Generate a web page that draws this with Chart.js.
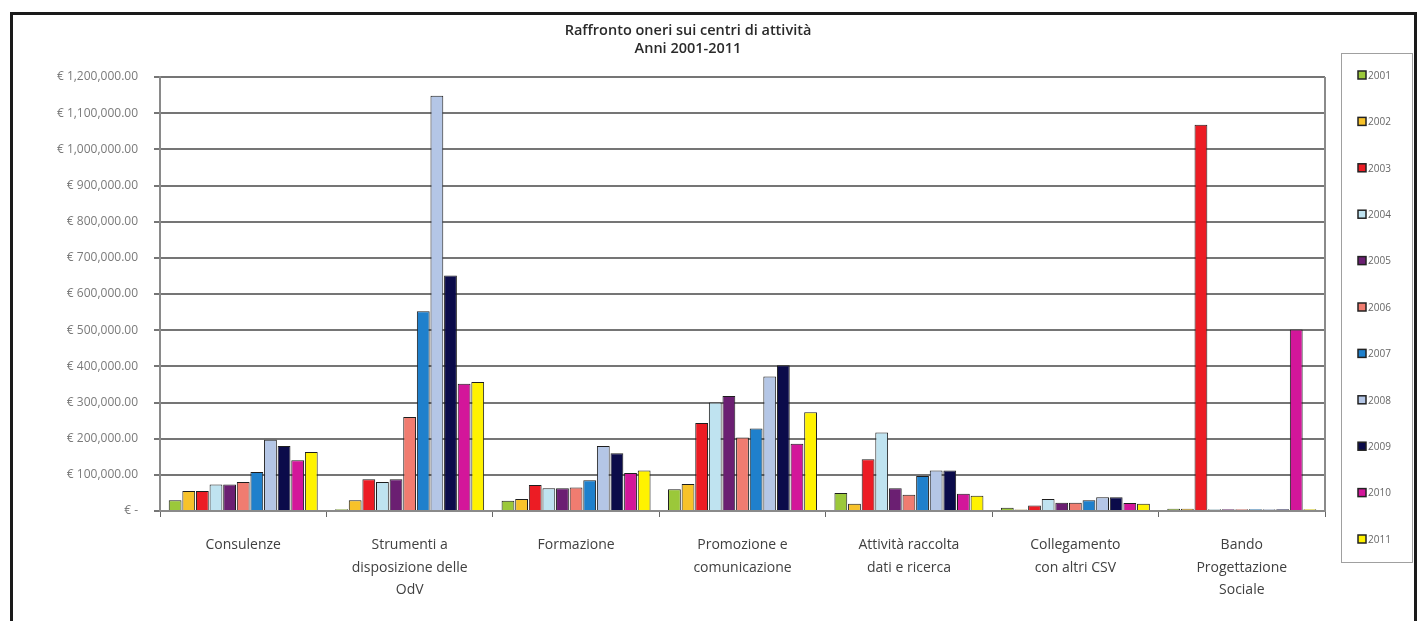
<!DOCTYPE html>
<html><head><meta charset="utf-8">
<script src="https://cdn.jsdelivr.net/npm/chart.js@4.4.0/dist/chart.umd.min.js"></script>
<style>
html,body{margin:0;padding:0;background:#fff;overflow:hidden}
#wrap{position:relative;width:1418px;height:621px}
#frame{position:absolute;left:10px;top:12px;width:1401px;height:640px;border:3px solid #1a1a1a;pointer-events:none}
canvas{position:absolute;left:0;top:0}
</style></head><body>
<div id="wrap"><canvas id="c" width="1418" height="621"></canvas><div id="frame"></div></div>
<script>
// ---- data ----
const titleLines = ['Raffronto oneri sui centri di attività', 'Anni 2001-2011'];
const categories = [
  ['Consulenze'],
  ['Strumenti a', 'disposizione delle', 'OdV'],
  ['Formazione'],
  ['Promozione e', 'comunicazione'],
  ['Attività raccolta', 'dati e ricerca'],
  ['Collegamento', 'con altri CSV'],
  ['Bando', 'Progettazione', 'Sociale']
];
const years = ['2001','2002','2003','2004','2005','2006','2007','2008','2009','2010','2011'];
const v2001 = [30000, 5000, 28000, 60000, 50000, 9000, 6000];
const v2002 = [55000, 30000, 33000, 75000, 20000, 4000, 6000];
const v2003 = [55000, 88000, 72000, 243000, 143000, 15000, 1068000];
const v2004 = [73000, 80000, 63000, 300000, 217000, 33000, 5000];
const v2005 = [73000, 88000, 63000, 318000, 63000, 23000, 5000];
const v2006 = [80000, 260000, 65000, 203000, 45000, 23000, 5000];
const v2007 = [108000, 552000, 85000, 228000, 97000, 30000, 5000];
const v2008 = [197000, 1148000, 180000, 372000, 112000, 38000, 5000];
const v2009 = [180000, 651000, 160000, 403000, 112000, 38000, 5000];
const v2010 = [140000, 352000, 105000, 186000, 48000, 22000, 502000];
const v2011 = [163000, 357000, 112000, 273000, 42000, 20000, 5000];
const yTickValues = [0,100000,200000,300000,400000,500000,600000,700000,800000,900000,1000000,1100000,1200000];
const yTickLabels = ['€ -','€ 100,000.00','€ 200,000.00','€ 300,000.00','€ 400,000.00','€ 500,000.00','€ 600,000.00','€ 700,000.00','€ 800,000.00','€ 900,000.00','€ 1,000,000.00','€ 1,100,000.00','€ 1,200,000.00'];

// ---- styles ----
const colors = ['#9bc83a','#f7c22a','#ec1c24','#bfe3f0','#6b1f72','#f07c70','#1f80cc','#b4c6e6','#0b0b4a','#d3169a','#fff200'];
const FONT = '"Open Sans", "DejaVu Sans", sans-serif';
const allValues = [v2001,v2002,v2003,v2004,v2005,v2006,v2007,v2008,v2009,v2010,v2011];

const decor = {
  id: 'decor',
  afterDraw(chart) {
    const ctx = chart.ctx, ca = chart.chartArea;
    ctx.save();
    // back wall right edge
    ctx.strokeStyle = '#8a8a8a'; ctx.lineWidth = 2;
    ctx.beginPath(); ctx.moveTo(ca.right, ca.top); ctx.lineTo(ca.right, ca.bottom); ctx.stroke();
    // title
    ctx.fillStyle = '#2a2a2a';
    ctx.font = '600 14.5px ' + FONT;
    ctx.textAlign = 'center'; ctx.textBaseline = 'middle';
    ctx.fillText(titleLines[0], 688, 31);
    ctx.fillText(titleLines[1], 688, 49);
    // legend
    const lx = 1341, ly = 53, lw = 71, lh = 509;
    ctx.strokeStyle = '#a0a0a0'; ctx.lineWidth = 1;
    ctx.strokeRect(lx + 0.5, ly + 0.5, lw, lh);
    ctx.font = '10px ' + FONT; ctx.textAlign = 'left';
    chart.data.datasets.forEach((ds, i) => {
      const cy = 75 + i * 46.4;
      ctx.fillStyle = ds.backgroundColor;
      ctx.fillRect(1358, cy - 4, 8, 8);
      ctx.strokeStyle = '#222'; ctx.lineWidth = 1.5;
      ctx.strokeRect(1358, cy - 4, 8, 8);
      ctx.fillStyle = '#666';
      ctx.fillText(ds.label, 1368, cy + 1);
    });
    ctx.restore();
  }
};

new Chart(document.getElementById('c'), {
  type: 'bar',
  data: {
    labels: categories,
    datasets: years.map((y, i) => ({
      label: y,
      data: allValues[i],
      backgroundColor: colors[i],
      borderColor: '#1e1e1e',
      borderWidth: 1,
      categoryPercentage: 0.9,
      barPercentage: 0.94
    }))
  },
  options: {
    responsive: false,
    animation: false,
    layout: { padding: { left: 12, top: 77, right: 93, bottom: 0 } },
    plugins: { legend: { display: false }, title: { display: false }, tooltip: { enabled: false } },
    scales: {
      x: {
        grid: { display: true, drawOnChartArea: false, tickLength: 6, color: '#666', offset: true },
        border: { color: '#8a8a8a', width: 2 },
        ticks: { padding: 17, color: '#404040', font: { family: FONT, size: 14, lineHeight: 1.6 }, maxRotation: 0, autoSkip: false },
        afterFit(s) { s.height = 110; }
      },
      y: {
        min: 0, max: 1200000,
        afterBuildTicks(s) { s.ticks = yTickValues.map(v => ({ value: v })); },
        ticks: {
          padding: 16, color: '#7a7a7a', font: { family: FONT, size: 12 },
          callback: (v) => yTickLabels[yTickValues.indexOf(v)]
        },
        grid: { color: '#757575', lineWidth: 2, tickLength: 6 },
        border: { color: '#8a8a8a', width: 2 },
        afterFit(s) { s.width = 148; }
      }
    }
  },
  plugins: [decor]
});
</script>
</body></html>
